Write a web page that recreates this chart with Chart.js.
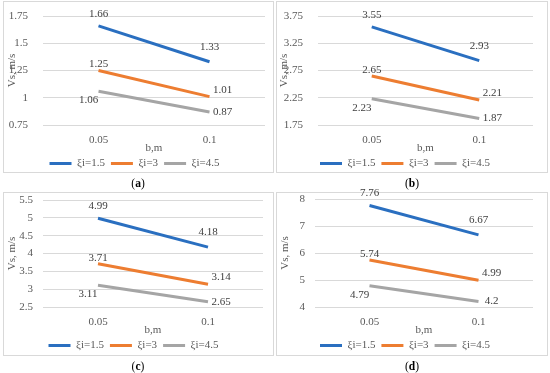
<!DOCTYPE html>
<html>
<head>
<meta charset="utf-8">
<script src="https://cdn.jsdelivr.net/npm/chart.js@4.4.0/dist/chart.umd.min.js"></script>
<style>
  body { margin: 0; width: 550px; height: 373px; background: #fff; position: relative; overflow: hidden; font-family: 'Liberation Serif', serif; }
  .box { position: absolute; border: 1px solid #d9d9d9; box-sizing: border-box; }
  canvas { position: absolute; }
  .cap { position: absolute; width: 60px; text-align: center; font-size: 11.5px; color: #000; line-height: 14px; }
</style>
</head>
<body>
<div class="box" style="left:3px;top:1px;width:271px;height:172px"></div>
<div class="box" style="left:276px;top:1px;width:272px;height:172px"></div>
<div class="box" style="left:3px;top:192px;width:271px;height:164px"></div>
<div class="box" style="left:276px;top:192px;width:272px;height:164px"></div>

<canvas id="chartA" style="left:4px;top:2px"></canvas>
<canvas id="chartB" style="left:277px;top:2px"></canvas>
<canvas id="chartC" style="left:4px;top:187px"></canvas>
<canvas id="chartD" style="left:277px;top:187px"></canvas>

<div class="cap" style="left:108px;top:176px">(<b>a</b>)</div>
<div class="cap" style="left:382px;top:176px">(<b>b</b>)</div>
<div class="cap" style="left:108px;top:359px">(<b>c</b>)</div>
<div class="cap" style="left:382px;top:359px">(<b>d</b>)</div>

<script>
// x categories (b, m) and series names
const categories = ['0.05', '0.1'];
const seriesNames = ['ξi=1.5', 'ξi=3', 'ξi=4.5'];

// Vs, m/s values per panel
const a_xi15 = [1.66, 1.33];
const a_xi3 = [1.25, 1.01];
const a_xi45 = [1.06, 0.87];

const b_xi15 = [3.55, 2.93];
const b_xi3 = [2.65, 2.21];
const b_xi45 = [2.23, 1.87];

const c_xi15 = [4.99, 4.18];
const c_xi3 = [3.71, 3.14];
const c_xi45 = [3.11, 2.65];

const d_xi15 = [7.76, 6.67];
const d_xi3 = [5.74, 4.99];
const d_xi45 = [4.79, 4.2];

// y tick labels per panel
const ticksA = [0.75, 1, 1.25, 1.5, 1.75];
const ticksB = [1.75, 2.25, 2.75, 3.25, 3.75];
const ticksC = [2.5, 3, 3.5, 4, 4.5, 5, 5.5];
const ticksD = [4, 5, 6, 7, 8];

const colors = ['#2a6fc0', '#ed7d31', '#a5a5a5'];
const serif = 'Liberation Serif';
const fs = 11;

// where each value label sits relative to its point [dataset][point] = [dx, dy]
const labelOffsets = [
    [[0, -12], [0, -15]],
    [[0, -6], [13, -7]],
    [[-10, 9], [13, 0]]
];

// simple data label plugin (no datalabels plugin available)
const valueLabels = {
    id: 'valueLabels',
    afterDatasetsDraw(chart) {
        const ctx = chart.ctx;
        ctx.save();
        ctx.font = fs + 'px "' + serif + '"';
        ctx.fillStyle = '#404040';
        ctx.textAlign = 'center';
        ctx.textBaseline = 'middle';
        chart.data.datasets.forEach((ds, i) => {
            chart.getDatasetMeta(i).data.forEach((pt, j) => {
                const off = labelOffsets[i][j];
                ctx.fillText(String(ds.data[j]), pt.x + off[0], pt.y + off[1]);
            });
        });
        ctx.restore();
    }
};

// fixed legend height so the stack under the plot matches
const legendHeight = {
    id: 'legendHeight',
    beforeInit(chart) {
        const fit = chart.legend.fit;
        chart.legend.fit = function () { fit.call(this); this.height = 26; };
    }
};

function makeChart(id, w, h, series, ticks, yw, tickPad, titlePad, padTop, padRight) {
    const canvas = document.getElementById(id);
    canvas.width = w;
    canvas.height = h;
    return new Chart(canvas.getContext('2d'), {
        type: 'line',
        data: {
            labels: categories,
            datasets: series.map((s, i) => ({
                label: seriesNames[i],
                data: s,
                borderColor: colors[i],
                backgroundColor: colors[i],
                borderWidth: 3,
                pointRadius: 0,
                pointStyle: 'line',
                tension: 0,
                fill: false
            }))
        },
        options: {
            responsive: false,
            animation: false,
            layout: { padding: { top: padTop, right: padRight, left: 0, bottom: 0 } },
            plugins: {
                legend: {
                    position: 'bottom',
                    labels: {
                        usePointStyle: true,
                        pointStyleWidth: 22,
                        padding: 6,
                        color: '#595959',
                        font: { family: serif, size: fs }
                    }
                },
                tooltip: { enabled: false }
            },
            scales: {
                x: {
                    offset: true,
                    afterFit: s => { s.height = 27; },
                    grid: { display: false, drawTicks: false },
                    border: { display: false },
                    ticks: { color: '#595959', padding: 8.5, font: { family: serif, size: fs } },
                    title: {
                        display: true, text: 'b,m', color: '#595959',
                        font: { family: serif, size: fs },
                        padding: { top: 0, bottom: -2.6 }
                    }
                },
                y: {
                    min: ticks[0],
                    max: ticks[ticks.length - 1],
                    afterBuildTicks: s => { s.ticks = ticks.map(v => ({ value: v })); },
                    afterFit: s => { s.width = yw; s.paddingTop = 0; s.paddingBottom = 0; },
                    grid: { color: '#d9d9d9', lineWidth: 1, drawTicks: false },
                    border: { display: false },
                    ticks: {
                        autoSkip: false,
                        color: '#595959', padding: tickPad,
                        font: { family: serif, size: fs },
                        callback: v => String(+v.toFixed(2))
                    },
                    title: {
                        display: true, text: 'Vs, m/s', color: '#595959',
                        font: { family: serif, size: fs },
                        padding: { top: titlePad, bottom: 0 }
                    }
                }
            }
        },
        plugins: [valueLabels, legendHeight]
    });
}

makeChart('chartA', 269, 176, [a_xi15, a_xi3, a_xi45], ticksA, 39, 15, 1.5, 14, 8);
makeChart('chartB', 270, 176, [b_xi15, b_xi3, b_xi45], ticksB, 41, 15, 0.5, 14, 14);
makeChart('chartC', 269, 173, [c_xi15, c_xi3, c_xi45], ticksC, 39, 10, 1.5, 13, 10);
makeChart('chartD', 270, 173, [d_xi15, d_xi3, d_xi45], ticksD, 38, 10, 1.5, 12, 14);
</script>
</body>
</html>
